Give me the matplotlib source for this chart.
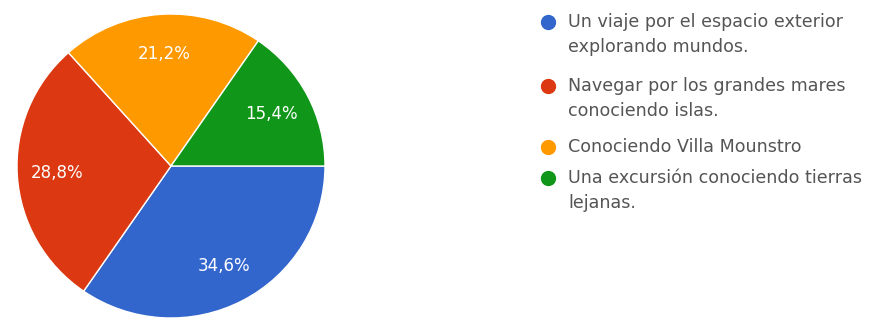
import matplotlib
matplotlib.use("Agg")
import matplotlib.pyplot as plt
from matplotlib.lines import Line2D

categories = [
    "Un viaje por el espacio exterior\nexplorando mundos.",
    "Navegar por los grandes mares\nconociendo islas.",
    "Conociendo Villa Mounstro",
    "Una excursión conociendo tierras\nlejanas.",
]
shares = [34.6, 28.8, 21.2, 15.4]
colors = ["#3366cc", "#dc3912", "#ff9900", "#109618"]

W, H = 879, 323
fig = plt.figure(figsize=(W / 100, H / 100), dpi=100)
fig.patch.set_facecolor("white")

cx, cy, rx, ry = 171, 166, 154, 152
ax = fig.add_axes([(cx - rx) / W, (H - cy - ry) / H, 2 * rx / W, 2 * ry / H])

wedges, texts, autotexts = ax.pie(
    shares,
    colors=colors,
    startangle=0,
    counterclock=False,
    autopct=lambda p: f"{p:.1f}%".replace(".", ","),
    pctdistance=0.74,
    wedgeprops=dict(edgecolor="white", linewidth=1),
    textprops=dict(color="white", fontsize=12, family="DejaVu Sans"),
)
ax.set_aspect("auto")
ax.set_xlim(-1, 1)
ax.set_ylim(-1, 1)
ax.axis("off")

# Legend drawn by hand: a dot and a wrapped label for each category
legend_y = [22, 86, 147, 178]
dot_x, text_x = 548, 568
line_h = 25
for label, color, y in zip(categories, colors, legend_y):
    fig.add_artist(Line2D([dot_x / W], [1 - y / H], marker="o", markersize=10,
                          color=color, transform=fig.transFigure))
    for k, line in enumerate(label.split("\n")):
        fig.text(text_x / W, 1 - (y + k * line_h) / H, line,
                 ha="left", va="center", fontsize=12.6,
                 family="DejaVu Sans", color="#555555")

fig.savefig("out.png", dpi=100, facecolor="white")
